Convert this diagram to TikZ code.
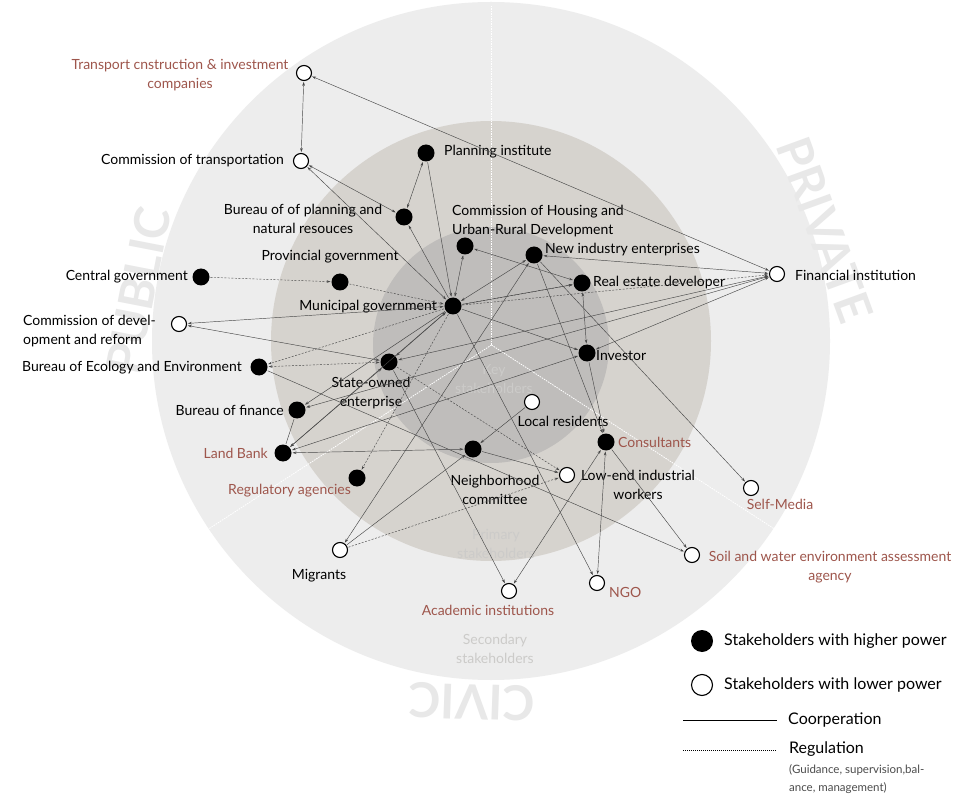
\documentclass[tikz,border=0pt]{standalone}
\usepackage{fontspec}
\setmainfont{Lato}
\usetikzlibrary{arrows.meta}
\definecolor{ringA}{RGB}{237,237,237}
\definecolor{ringB}{RGB}{214,211,206}
\definecolor{ringC}{RGB}{191,189,187}
\definecolor{rust}{RGB}{158,86,76}
\definecolor{zonetext}{RGB}{204,203,201}
\definecolor{sectortext}{RGB}{232,232,232}
\definecolor{link}{RGB}{72,72,72}
\begin{document}
\begin{tikzpicture}[x=1pt,y=-1pt,
  hi/.style={circle,fill=black,minimum size=17pt,inner sep=0pt},
  lo/.style={circle,draw=black,fill=white,line width=1.1pt,minimum size=15pt,inner sep=0pt},
  lbl/.style={font=\fontsize{14}{18.5}\selectfont,inner sep=0pt,text=black},
  rlbl/.style={lbl,text=rust},
  keylbl/.style={lbl,anchor=west,font=\fontsize{16}{18}\selectfont},
  zone/.style={font=\fontsize{14}{18.5}\selectfont,inner sep=0pt,text=zonetext,align=center},
  sector/.style={font=\fontsize{48}{48}\selectfont\bfseries,inner sep=0pt,text=sectortext},
  coop/.style={draw=link,line width=0.45pt,shorten >=0.8pt,shorten <=0.8pt},
  reg/.style={coop,dash pattern=on 2pt off 1.5pt},
  one/.style={-{Stealth[length=4pt,width=2.6pt]}},
  two/.style={{Stealth[length=4pt,width=2.6pt]}-{Stealth[length=4pt,width=2.6pt]}},
  divider/.style={draw=white,line width=0.8pt,dash pattern=on 1.5pt off 1pt}
]
\useasboundingbox (0,0) rectangle (966,799);
\fill[white] (0,0) rectangle (966,799);

% stakeholder rings
\fill[ringA] (491,341) circle[radius=339pt];
\fill[ringB] (491,341) circle[radius=220pt];
\fill[ringC] (491,345) circle[radius=118pt];

% sector names around the outer ring
\node[sector,rotate=79] (spub) at (138,291) {PUBLIC};
\node[sector,rotate=-70] (spri) at (825,230) {PRIVATE};
\node[sector,rotate=178] (sciv) at (472,702) {CIVIC};

% sector dividers
\coordinate (hub) at (491.5,345);
\coordinate (divN) at (491.5,6);
\coordinate (divW) at (207,530);
\coordinate (divE) at (776,530);
\draw[divider] (hub) -- (divN);
\draw[divider] (hub) -- (divW);
\draw[divider] (hub) -- (divE);

% ring names
\node[zone] (zkey) at (494,379) {Key\\stakeholders};
\node[zone] (zpri) at (496,544) {Primary\\stakeholders};
\node[zone] (zsec) at (495,649) {Secondary\\stakeholders};

% stakeholders
\node[lo] (trans) at (304,73) {};
\node[lo] (ctrans) at (301,161) {};
\node[hi] (plan) at (426,153) {};
\node[hi] (bplan) at (404,217) {};
\node[hi] (chous) at (465,246) {};
\node[hi] (newind) at (534,255) {};
\node[hi] (central) at (201,277) {};
\node[hi] (prov) at (340,282) {};
\node[hi] (realest) at (582,283) {};
\node[hi] (muni) at (453,306) {};
\node[lo] (fin) at (777,274) {};
\node[lo] (cdev) at (179,324) {};
\node[hi] (invest) at (587,353) {};
\node[hi] (eco) at (259,367) {};
\node[hi] (soe) at (389,362) {};
\node[hi] (finance) at (297,410) {};
\node[lo] (local) at (532,402) {};
\node[hi] (landbank) at (283,453) {};
\node[hi] (neigh) at (473,449) {};
\node[hi] (consult) at (606,442) {};
\node[lo] (lowend) at (567,475) {};
\node[hi] (regul) at (357,478) {};
\node[lo] (selfm) at (751,488) {};
\node[lo] (migr) at (340,550) {};
\node[lo] (soil) at (692,555) {};
\node[lo] (acad) at (509,591) {};
\node[lo] (ngo) at (597,583) {};

% names of stakeholders
\node[rlbl,align=center] (ttrans) at (180,75) {Transport cnstruction \& investment\\companies};
\node[lbl,anchor=east] (tctrans) at (284,161) {Commission of transportation};
\node[lbl,anchor=west] (tplan) at (444,152) {Planning institute};
\node[lbl,align=center] (tbplan) at (303,219) {Bureau of of planning and\\natural resouces};
\node[lbl,align=left,anchor=west] (tchous) at (452,221) {Commission of Housing and\\Urban-Rural Development};
\node[lbl,anchor=west] (tnewind) at (545,250) {New industry enterprises};
\node[lbl,anchor=east] (tcentral) at (188,277) {Central government};
\node[lbl] (tprov) at (330,257) {Provincial government};
\node[lbl,anchor=west] (trealest) at (593,283) {Real estate developer};
\node[lbl,anchor=east] (tmuni) at (437,307) {Municipal government};
\node[lbl,anchor=west] (tfin) at (795,275) {Financial institution};
\node[lbl,align=left,anchor=west] (tcdev) at (23,331) {Commission of devel-\\opment and reform};
\node[lbl,anchor=west] (tinvest) at (596,356) {Investor};
\node[lbl,anchor=east] (teco) at (242,368) {Bureau of Ecology and Environment};
\node[lbl,align=center] (tsoe) at (371,393) {State-owned\\enterprise};
\node[lbl,anchor=east] (tfinance) at (284,410) {Bureau of finance};
\node[lbl] (tlocal) at (563,421) {Local residents};
\node[rlbl,anchor=west] (tconsult) at (618,442) {Consultants};
\node[rlbl,anchor=east] (tlandbank) at (268,453) {Land Bank};
\node[lbl,align=center] (tneigh) at (495,490) {Neighborhood\\committee};
\node[lbl,align=center] (tlowend) at (638,485) {Low-end industrial\\workers};
\node[rlbl,anchor=east] (tregul) at (351,491) {Regulatory agencies};
\node[rlbl] (tselfm) at (780,504) {Self-Media};
\node[lbl] (tmigr) at (319,576) {Migrants};
\node[rlbl,align=center] (tsoil) at (830,567) {Soil and water environment assessment\\agency};
\node[rlbl] (tacad) at (488,610) {Academic institutions};
\node[rlbl,anchor=west] (tngo) at (609,592) {NGO};

% cooperation
\draw[coop,two] (trans) -- (ctrans);
\draw[coop,two] (trans) -- (fin);
\draw[coop,two] (ctrans) -- (bplan);
\draw[coop,two] (ctrans) -- (muni);
\draw[coop,two] (plan) -- (bplan);
\draw[coop,one] (plan) -- (muni);
\draw[coop,one] (muni) -- (bplan);
\draw[coop,two] (chous) -- (muni);
\draw[coop,two] (chous) -- (realest);
\draw[coop,two] (muni) -- (newind);
\draw[coop,two] (newind) -- (fin);
\draw[coop,one] (newind) -- (selfm);
\draw[coop,one] (muni) -- (realest);
\draw[coop,one] (muni) -- (invest);
\draw[coop,two] (realest) -- (invest);
\draw[coop,two] (invest) -- (fin);
\draw[coop,two] (muni) -- (cdev);
\draw[coop,two] (cdev) -- (soe);
\draw[coop,two] (muni) -- (soe);
\draw[coop,one] (muni) -- (finance);
\draw[coop,two] (muni) -- (landbank);
\draw[coop] (finance) -- (landbank);
\draw[coop,two] (landbank) -- (neigh);
\draw[coop,two] (landbank) -- (soe);
\draw[coop,two] (landbank) -- (invest);
\draw[coop,two] (finance) -- (fin);
\draw[coop,two] (soe) -- (fin);
\draw[coop,one] (eco) -- (soil);
\draw[coop,one] (local) -- (neigh);
\draw[coop,one] (neigh) -- (lowend);
\draw[coop,one] (migr) -- (neigh);
\draw[coop,two] (consult) -- (ngo);
\draw[coop,one] (consult) -- (soil);
\draw[coop,two] (consult) -- (acad);
\draw[coop,one] (invest) -- (consult);
\draw[coop,one] (newind) -- (consult);
\draw[coop,two] (newind) -- (migr);
\draw[coop,one] (muni) -- (ngo);
\draw[coop,one] (soe) -- (acad);

% regulation
\draw[reg,one] (central) -- (prov);
\draw[reg,one] (prov) -- (muni);
\draw[reg,one] (muni) -- (eco);
\draw[reg,two] (eco) -- (soe);
\draw[reg,one] (muni) -- (realest);
\draw[reg,one] (muni) -- (fin);
\draw[reg,one] (muni) -- (regul);
\draw[reg,one] (soe) -- (lowend);
\draw[reg,one] (migr) -- (lowend);

% legend
\node[hi,minimum size=22pt] (khi) at (702,641) {};
\node[lo,minimum size=21pt] (klo) at (702,685) {};
\node[keylbl] (tkhi) at (724,641) {Stakeholders with higher power};
\node[keylbl] (tklo) at (724,685) {Stakeholders with lower power};
\coordinate (kcoopA) at (683,720);
\coordinate (kcoopB) at (777,720);
\coordinate (kregA) at (683,750);
\coordinate (kregB) at (777,750);
\draw[black,line width=0.7pt] (kcoopA) -- (kcoopB);
\draw[black,line width=0.7pt,dash pattern=on 1pt off 1pt] (kregA) -- (kregB);
\node[keylbl] (tkcoop) at (788,720) {Coorperation};
\node[keylbl] (tkreg) at (789,749) {Regulation};
\node[lbl,anchor=north west,align=left,text=black!70,font=\fontsize{11.5}{18}\selectfont] (tknote) at (789,764) {(Guidance, supervision,bal-\\ance, management)};
\end{tikzpicture}
\end{document}
